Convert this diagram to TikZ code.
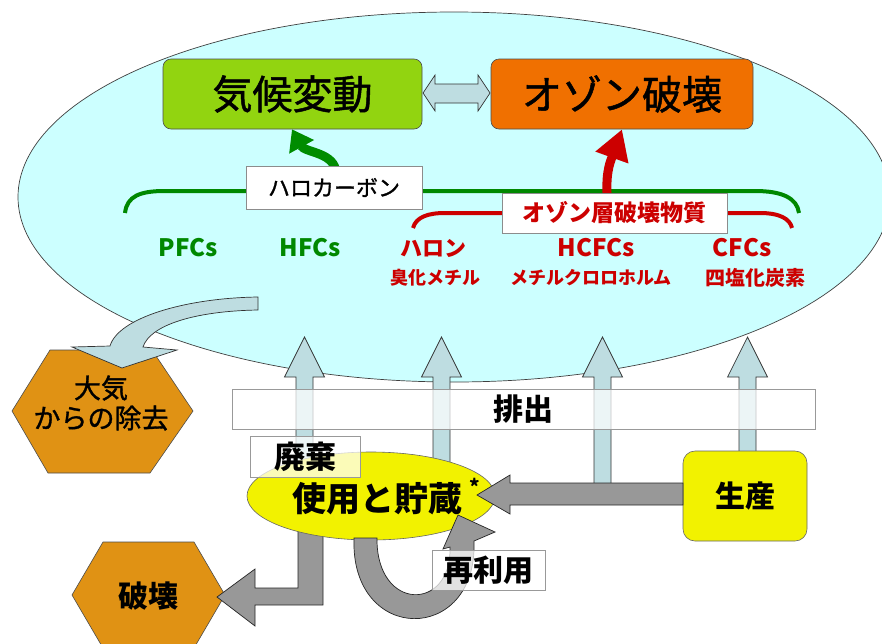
\documentclass[tikz,border=0pt]{standalone}
\usepackage{fontspec}
\setmainfont{Noto Sans CJK JP}
\newfontfamily\jpmid{Noto Sans CJK JP}[FakeBold=1.2]
\usetikzlibrary{arrows.meta,shapes.geometric}
\definecolor{ellfill}{RGB}{204,255,255}
\definecolor{kgreen}{RGB}{146,212,16}
\definecolor{korange}{RGB}{240,112,0}
\definecolor{hexor}{RGB}{224,146,20}
\definecolor{kyellow}{RGB}{242,242,0}
\definecolor{agray}{RGB}{152,152,152}
\definecolor{ablue}{RGB}{190,221,225}
\definecolor{lgreen}{RGB}{0,136,0}
\definecolor{lred}{RGB}{204,0,0}
\definecolor{bgreen}{RGB}{0,140,0}
\begin{document}
\begin{tikzpicture}[x=1pt,y=-1pt,
  fsz/.style={font=\fontsize{#1}{#1}\selectfont},
  bfsz/.style={font=\bfseries\fontsize{#1}{#1}\selectfont},
  msz/.style={font=\jpmid\fontsize{#1}{#1}\selectfont},
  topbox/.style={draw=black!70, line width=0.6pt, rounded corners=8pt, minimum height=70pt, inner sep=0pt},
  lbox/.style={draw=black!45, line width=0.8pt, fill=white, inner sep=0pt},
  tbox/.style={draw=black!40, line width=0.8pt, fill=white, fill opacity=0.72, text opacity=1, inner sep=0pt},
  hexa/.style={fill=hexor, draw=black!70, line width=0.6pt},
  garr/.style={fill=agray, draw=black!85, line width=0.7pt},
  barr/.style={fill=ablue, draw=black!80, line width=0.7pt},
  glab/.style={text=lgreen, bfsz=24},
  rlab/.style={text=lred, bfsz=22},
  rsub/.style={text=lred, bfsz=18},
]
\useasboundingbox (0,0) rectangle (882,643);
\clip (0,0) rectangle (882,643);
\fill[white] (0,0) rectangle (882,643);

% atmosphere ellipse
\node[ellipse, draw=black!75, line width=0.7pt, fill=ellfill, minimum width=872pt, minimum height=370pt, inner sep=0pt] (atmos) at (454,197) {};

% top boxes
\node[topbox, fill=kgreen, minimum width=259pt, msz=40] (climate) at (292.5,94) {気候変動};
\node[topbox, fill=korange, minimum width=262pt, msz=40] (ozone) at (622,94) {オゾン破壊};

% double arrow between them
\filldraw[barr] (423,93) -- (435,75) -- (435,84) -- (478,84) -- (478,75) -- (490,93) -- (478,111) -- (478,103) -- (435,103) -- (435,111) -- cycle;

% braces
\draw[lgreen, line width=4pt] (125,213) .. controls (127,196) and (140,191) .. (165,191) -- (755,191) .. controls (782,191) and (797,198) .. (799,213);
\draw[lred, line width=4pt] (413,228) .. controls (416,217) and (428,213) .. (445,213) -- (760,213) .. controls (780,213) and (790,219) .. (792,228);

% effect arrows
\coordinate (gstart) at (336,174);
\coordinate (rstart) at (607,193);
\draw[bgreen, line width=9pt, -{Triangle[length=20pt,width=27pt]}] (gstart) .. controls (336,152) and (305,153) .. (climate.south -| 292,130);
\draw[lred, line width=9pt, -{Triangle[length=30pt,width=33pt]}] (rstart) .. controls (606,170) and (611,160) .. (ozone.south -| 622,128);

% group label boxes
\node[lbox, msz=22, minimum width=176pt, minimum height=43pt] (halocarbon) at (334,187.5) {ハロカーボン};
\node[lbox, text=lred, bfsz=23, minimum width=225pt, minimum height=40pt] (ods) at (614.5,213) {オゾン層破壊物質};

% substance labels
\node[glab] (pfc) at (188,248) {PFCs};
\node[glab] (hfc) at (310,248) {HFCs};
\node[rlab] (halon) at (433,248) {ハロン};
\node[text=lred, bfsz=24] (hcfc) at (596,248) {HCFCs};
\node[text=lred, bfsz=24] (cfc) at (742,248) {CFCs};
\node[rsub] (mebr) at (435,278) {臭化メチル};
\node[rsub] (mcf) at (591,278) {メチルクロロホルム};
\node[text=lred, bfsz=20] (ccl4) at (755,278) {四塩化炭素};

% removal from atmosphere
\filldraw[hexa] (12,411) -- (50,350) -- (152,350) -- (193,411) -- (150,473) -- (48,473) -- cycle;
\node[align=center, font=\jpmid\fontsize{27}{30}\selectfont] (removal) at (101,403) {大気\\からの除去};
\filldraw[barr] (258,297) .. controls (185,298) and (118,318) .. (110,346) -- (72,347) -- (122,368) -- (177,350) -- (143,347) .. controls (150,325) and (195,311) .. (258,310) -- cycle;

% emission arrows
\foreach \c/\b in {304.5/470, 441.5/470, 602.5/490, 747.5/460}{
  \filldraw[barr] (\c-8.5,\b) -- (\c-8.5,377) -- (\c-20,377) -- (\c,337) -- (\c+20,377) -- (\c+8.5,377) -- (\c+8.5,\b) -- cycle;
}
\node[tbox, minimum width=583pt, minimum height=40pt, bfsz=30] (emit) at (523.5,409) {排出};

% destruction
\filldraw[hexa] (72,595) -- (103,542) -- (194,542) -- (225,595) -- (194,648) -- (103,648) -- cycle;
\node[bfsz=30] (destroy) at (148,596) {破壊};
\filldraw[garr] (298,520) -- (298,588) -- (255,588) -- (255,569) -- (217,597) -- (255,626) -- (255,605) -- (323,605) -- (323,520) -- cycle;

% use and storage
\node[ellipse, fill=kyellow, draw=black!60, line width=0.6pt, minimum width=248pt, minimum height=88pt, inner sep=0pt] (use) at (371,496) {};
\node[bfsz=34] (usetext) at (377,499) {使用と貯蔵};
\node[tbox, minimum width=110pt, minimum height=41pt, bfsz=31] (disposal) at (305,456.5) {廃棄};

% production
\node[draw=black!60, line width=0.6pt, fill=kyellow, rounded corners=12pt, minimum width=124pt, minimum height=90pt, bfsz=30] (prod) at (745,496) {生産};
\filldraw[garr] (683,483) -- (510,483) -- (510,475) -- (477,495) -- (510,514) -- (510,505) -- (683,505) -- cycle;

% recycling
\filldraw[garr] (354,538) .. controls (350,645) and (478,645) .. (474,541) -- (495,532) -- (458,515) -- (443,549) -- (450,547) .. controls (452,612) and (376,612) .. (377,538) -- cycle;
\node[tbox, minimum width=113pt, minimum height=40pt, bfsz=30] (reuse) at (488.5,570) {再利用};

\node[bfsz=20] (star) at (475,486) {*};
\end{tikzpicture}
\end{document}
